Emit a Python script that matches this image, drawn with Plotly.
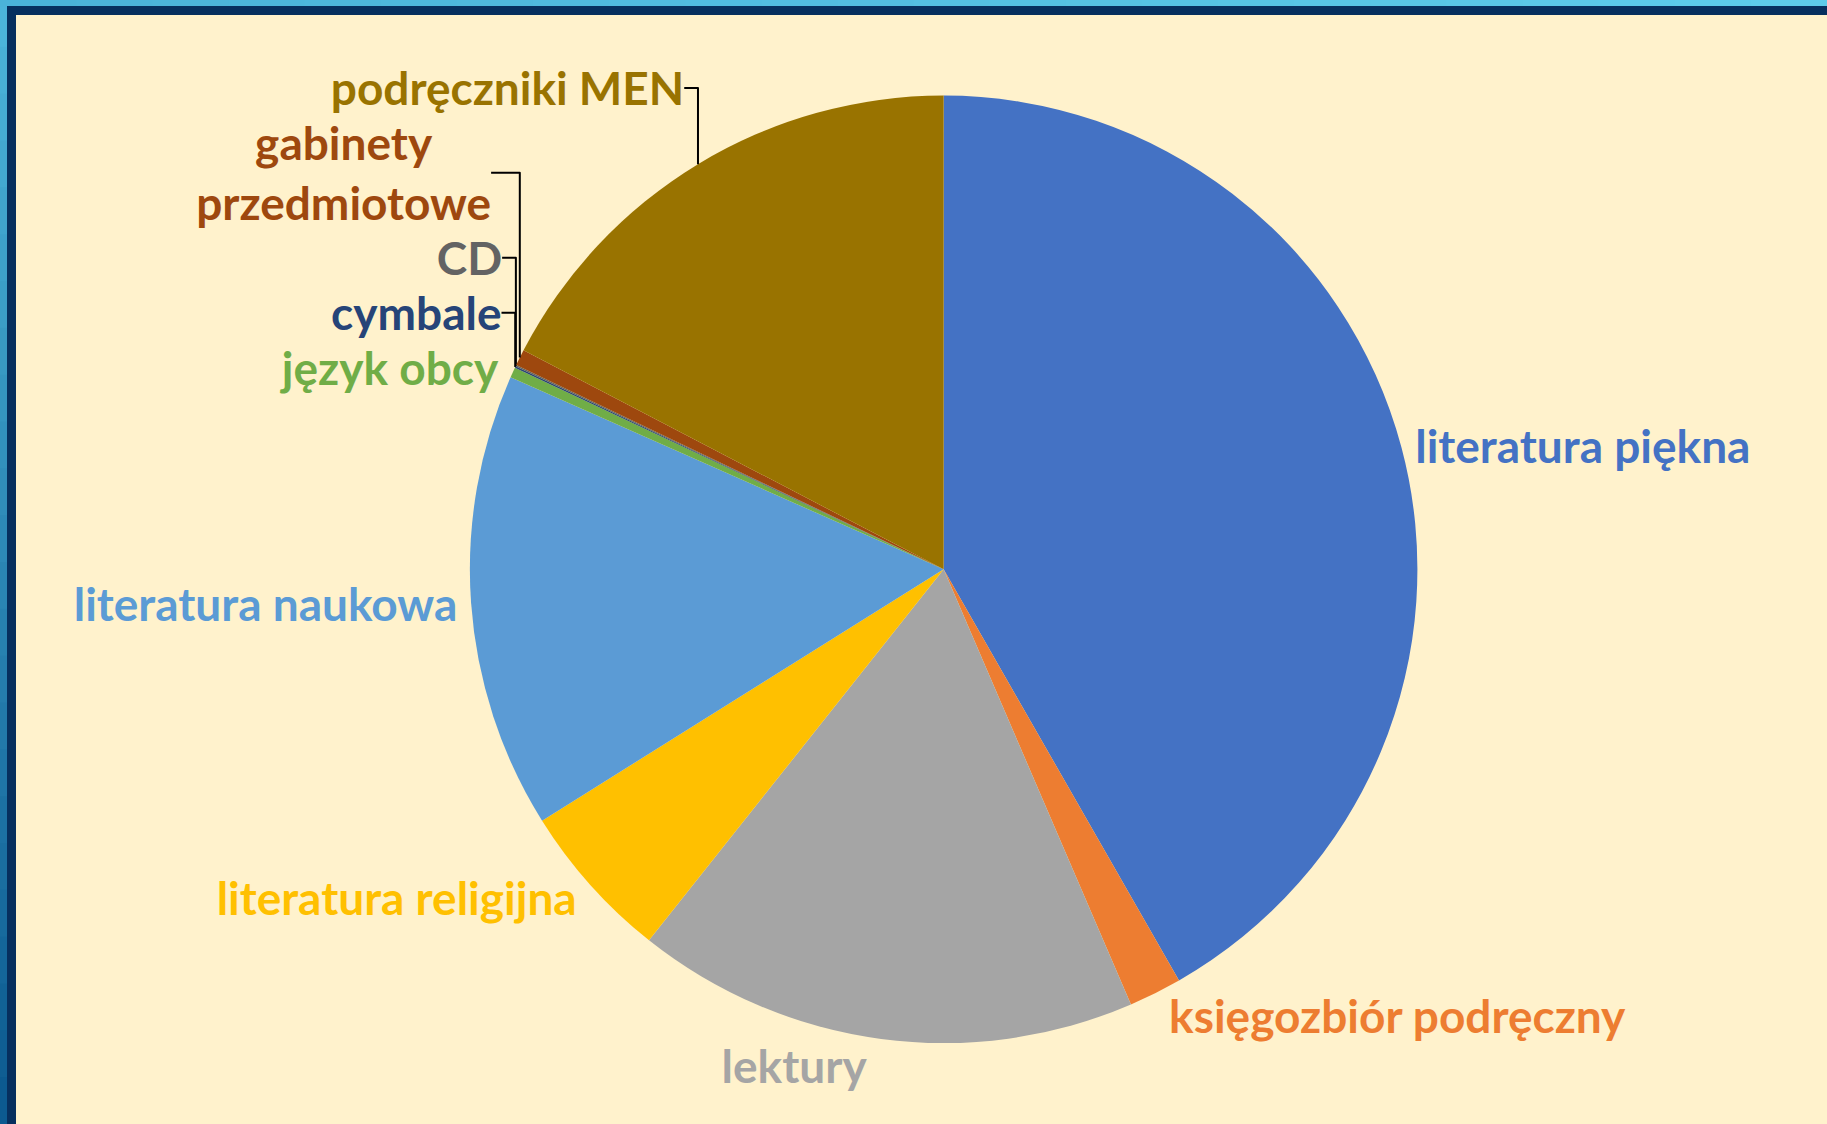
import plotly.graph_objects as go

# udział księgozbioru (%)
categories = ["literatura piękna", "księgozbiór podręczny", "lektury",
              "literatura religijna", "literatura naukowa", "język obcy",
              "cymbale", "CD", "gabinety przedmiotowe", "podręczniki MEN"]
values = [41.6, 1.8, 17.1, 5.4, 15.5, 0.35, 0.05, 0.05, 0.55, 17.3]
colors = ["#4472C4", "#ED7D31", "#A5A5A5", "#FFC000", "#5B9BD5",
          "#70AD47", "#264478", "#636363", "#9E480E", "#997300"]

W, H = 1827, 1124


def mix(c1, c2, t):
    a = [int(c1[i:i + 2], 16) for i in (1, 3, 5)]
    b = [int(c2[i:i + 2], 16) for i in (1, 3, 5)]
    return "#%02x%02x%02x" % tuple(round(a[i] + (b[i] - a[i]) * t) for i in range(3))


def rect(x0, y0, x1, y1, color):
    # piksele od lewego górnego rogu -> współrzędne paper
    return dict(type="rect", xref="paper", yref="paper", layer="below",
                x0=x0 / W, x1=x1 / W, y0=1 - y1 / H, y1=1 - y0 / H,
                fillcolor=color, line=dict(width=0))


shapes = []
# zewnętrzna niebieska ramka z gradientem
n = 24
for i in range(n):
    shapes.append(rect(0, i * H / n, 8, (i + 1) * H / n + 1,
                       mix("#4bb4da", "#0c5a90", i / (n - 1))))
    shapes.append(rect(i * W / n, 0, (i + 1) * W / n + 1, 7,
                       mix("#4ab3d9", "#5dcbea", i / (n - 1))))
# granatowa ramka
shapes.append(rect(7, 6, W, 15, "#062f5e"))
shapes.append(rect(7, 6, 16, H, "#062f5e"))

fig = go.Figure(go.Pie(
    labels=categories,
    values=values,
    text=[c.replace(" przedm", "<br>przedm") for c in categories],
    texttemplate="%{text}",
    textposition="outside",
    textfont=dict(family="Lato", size=46, color=colors, weight="bold"),
    marker=dict(colors=colors, line=dict(width=0)),
    sort=False,
    direction="clockwise",
    rotation=0,
    showlegend=False,
    domain=dict(x=[0.256, 0.777], y=[0.072, 0.915]),
))

fig.update_layout(
    width=W,
    height=H,
    paper_bgcolor="#FFF2CC",
    plot_bgcolor="#FFF2CC",
    margin=dict(l=0, r=0, t=0, b=0),
    shapes=shapes,
)

fig.write_html("out.html", config={"displayModeBar": False},
               post_script="document.body.style.margin='0';")
